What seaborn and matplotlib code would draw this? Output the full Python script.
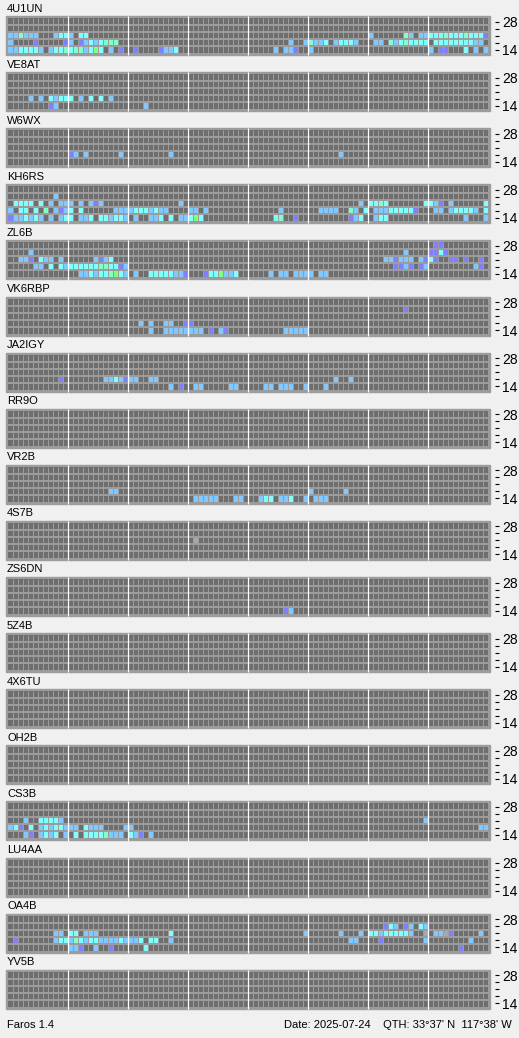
import numpy as np
import pandas as pd
import seaborn as sns
import matplotlib.pyplot as plt
from matplotlib.colors import ListedColormap
from matplotlib.patches import Rectangle

stations = ["4U1UN", "VE8AT", "W6WX", "KH6RS", "ZL6B", "VK6RBP", "JA2IGY", "RR9O", "VR2B",
            "4S7B", "ZS6DN", "5Z4B", "4X6TU", "OH2B", "CS3B", "LU4AA", "OA4B", "YV5B"]
bands = [28, 24, 21, 18, 14]
band_labels = ["28", "", "", "", "14"]
n_slots = 96

# detections per band: "slot:level"  (0 = weak/grey, 1 purple ... 5 green)
S_4U1UN = {
    21: "0:2 1:2 2:4 3:2 4:2 5:2 9:2 10:3 11:3 12:2 14:3 15:3 72:2 79:4 80:2 82:2 83:2 84:3 85:3 86:3 "
        "87:4 88:3 89:3 90:3 91:4 92:3 93:3 94:3 95:1",
    18: "0:2 5:1 11:1 12:2 14:1 15:2 16:3 17:2 18:3 19:4 20:4 21:4 56:2 59:2 60:4 61:2 62:2 63:3 65:2 "
        "66:3 67:3 68:3 69:2 73:2 74:2 76:4 77:2 78:3 79:4 80:3 81:3 82:3 83:3 85:3 86:3 87:3 88:3 "
        "89:3 90:3 91:3 92:3 93:2 94:2",
    14: "0:2 1:2 2:3 3:3 4:3 5:3 6:2 8:2 9:3 10:3 11:4 12:3 13:4 14:4 15:2 16:3 17:5 18:3 20:2 22:1 "
        "25:1 30:1 31:2 32:2 33:3 53:2 55:2 56:2 57:1 60:2 84:2 86:1 87:1 91:3 93:2 95:2",
}
S_VE8AT = {
    18: "4:2 6:2 8:3 9:2 10:3 11:3 12:3 14:2 16:3 18:3 20:2",
    14: "8:1 9:2 27:2",
}
S_W6WX = {18: "12:1 13:2 15:2 22:2 32:2 66:2"}
S_KH6RS = {
    24: "9:2",
    21: "1:3 2:3 3:3 4:3 6:3 8:2 10:2 11:2 12:2 14:2 16:2 17:1 18:2 34:2 70:2 72:3 73:3 74:4 75:3 "
        "83:3 84:3 85:2 86:1 88:2 95:3",
    18: "0:2 2:3 3:3 5:3 7:4 9:2 10:1 11:2 12:3 14:3 21:2 22:2 23:2 24:2 25:3 26:3 27:3 28:2 29:3 "
        "30:2 31:2 36:2 37:2 39:2 54:2 62:2 63:2 64:2 65:2 68:4 69:2 71:3 73:2 74:2 75:2 76:3 77:3 "
        "78:3 79:3 80:3 81:1 85:2 86:2 88:2 89:3 90:3 91:3 92:3 93:2 95:3",
    14: "0:1 1:2 2:2 3:3 4:2 5:3 6:2 8:2 10:2 11:3 12:3 14:2 15:2 16:3 18:3 19:3 20:2 21:3 22:3 "
        "23:2 25:2 28:2 29:2 30:3 32:3 34:2 35:2 36:3 37:5 38:3 53:3 54:4 57:1 68:1 69:2 70:3 73:2 "
        "74:3 75:3 91:2 95:2",
}
S_ZL6B = {
    28: "85:1 86:1",
    24: "4:2 79:2 84:1 85:1 86:3 87:1",
    21: "2:2 3:2 4:1 6:3 7:2 8:2 10:2 17:2 18:1 19:2 20:3 75:2 76:2 77:1 78:2 79:2 80:2 82:2 83:1 "
        "84:3 85:1 88:1 89:1 91:1 94:1",
    18: "5:2 6:2 8:3 10:3 11:2 12:3 13:3 14:3 15:3 16:3 17:3 18:4 19:4 20:3 21:3 22:1 23:2 77:1 "
        "78:1 79:2 80:1 82:1 83:2 93:2 94:1",
    14: "14:2 15:2 16:3 17:2 18:3 19:3 20:4 21:5 22:3 23:2 25:2 28:3 29:3 30:3 31:3 32:3 33:2 34:2 "
        "35:1 39:1 40:3 41:3 42:5 43:2 44:2 45:3 52:2 54:2 55:2 57:2 58:2 59:2 60:2 62:2 63:2",
}
S_VK6RBP = {
    24: "79:1",
    18: "26:2 28:2 31:2 32:2 35:1 36:1",
    14: "28:2 31:2 32:2 33:2 34:2 35:2 36:2 37:2 38:2 40:1 42:2 43:1 55:2 56:2 57:2 58:2 59:2",
}
S_JA2IGY = {
    18: "10:1 19:2 20:2 21:3 22:2 23:1 24:2 25:2 28:2 29:2 65:2 68:2",
    14: "32:2 34:1 37:2 38:2 44:2 45:2 51:2 52:2 54:2 55:2 56:2 59:2 63:2",
}
S_VR2B = {
    18: "20:2 21:2 60:2 67:2",
    14: "37:2 38:2 39:2 40:2 41:2 45:2 46:2 50:2 51:3 52:3 54:2 55:2 56:3 59:2 61:2 62:2 63:2",
}
S_4S7B = {21: "37:0"}
S_ZS6DN = {14: "55:1 56:2"}
S_CS3B = {
    21: "3:2 6:3 7:3 8:3 9:3 10:2 83:2",
    18: "0:2 1:3 2:1 4:3 6:2 7:3 8:2 9:3 10:3 11:2 12:2 13:2 15:3 16:2 17:2 18:2 23:2 24:2 94:2 95:2",
    14: "3:2 4:1 6:2 7:3 8:2 9:3 11:2 13:3 15:3 16:3 17:3 18:3 19:4 20:2 21:2 22:2 24:3 25:2 26:1 28:2",
}
S_OA4B = {
    24: "75:1 76:3 77:2 79:1 80:2 82:3 83:2",
    21: "9:2 10:2 12:3 13:3 15:2 16:2 17:2 32:3 59:2 66:2 70:2 72:3 73:3 74:2 75:3 76:3 77:3 78:3 "
        "79:3 80:2 83:0 85:2 86:2 87:0 88:1 94:2",
    18: "1:1 9:2 10:3 11:3 12:2 13:4 14:3 15:2 16:3 17:3 18:2 19:2 20:2 21:2 22:3 23:2 24:2 25:2 "
        "26:3 28:3 29:3 32:2 68:2 69:2 74:1 83:2 92:2",
    14: "12:2 13:2 14:1 17:2 20:1 27:3 90:1",
}
signals = {"4U1UN": S_4U1UN, "VE8AT": S_VE8AT, "W6WX": S_W6WX, "KH6RS": S_KH6RS, "ZL6B": S_ZL6B,
           "VK6RBP": S_VK6RBP, "JA2IGY": S_JA2IGY, "VR2B": S_VR2B, "4S7B": S_4S7B,
           "ZS6DN": S_ZS6DN, "CS3B": S_CS3B, "OA4B": S_OA4B}

footer_left = "Faros 1.4"
footer_right = "Date: 2025-07-24    QTH: 33°37' N  117°38' W"

# -1 empty, 0 grey, 1..5 signal strength
level_colors = ["#6e6e6e", "#a8a8a8", "#8080ff", "#80c8ff", "#80ffff", "#80ffc8", "#80ff80"]
cmap = ListedColormap(level_colors)
gap = "#9c9c9c"


def station_frame(spec):
    m = np.full((len(bands), n_slots), -1)
    for band, cells in spec.items():
        for item in cells.split():
            c, v = item.split(":")
            m[bands.index(band), int(c)] = int(v)
    return pd.DataFrame(m, index=bands)


plt.rcParams['font.family'] = ['Liberation Sans', 'DejaVu Sans']
W, H = 519, 1038
fig = plt.figure(figsize=(W / 100, H / 100), dpi=100, facecolor="#f0f0f0")

x0, x1 = 8, 488
inner_h = 35
for k, name in enumerate(stations):
    top = 16 + 56.1 * k
    # grey frame behind the grid
    fig.patches.append(Rectangle(((x0 - 2) / W, 1 - (top + inner_h + 4) / H), (x1 - x0 + 4) / W,
                                 (inner_h + 4) / H, transform=fig.transFigure, color=gap, zorder=-1))
    ax = fig.add_axes([x0 / W, 1 - (top + 2 + inner_h) / H, (x1 - x0) / W, inner_h / H])
    sns.heatmap(station_frame(signals.get(name, {})), ax=ax, cmap=cmap, vmin=-1.5, vmax=5.5,
                cbar=False, linewidths=0, xticklabels=False)
    ax.vlines(np.arange(1, n_slots), 0, len(bands), color=gap, lw=0.72)
    ax.hlines(np.arange(1, len(bands)), 0, n_slots, color=gap, lw=1.44)
    ax.vlines(np.arange(12, n_slots, 12), -0.3, len(bands) + 0.3, color="white", lw=0.9,
              clip_on=False, zorder=5)
    ax.set_xlabel("")
    ax.set_ylabel("")
    ax.yaxis.tick_right()
    ax.set_yticks(np.arange(len(bands)) + 0.5)
    ax.set_yticklabels(band_labels, rotation=0, fontsize=8)
    ax.spines['right'].set_position(('outward', 5))
    for s in ax.spines.values():
        s.set_visible(False)
    ax.tick_params(axis='y', length=3, width=0.8, color='black', pad=2, left=False, right=True)
    ax.tick_params(axis='x', length=0)
    fig.text(7 / W, 1 - (top - 7.5) / H, name, fontsize=8, va='center', ha='left')

fig.text(7 / W, 1 - 1025 / H, footer_left, fontsize=8, va='center', ha='left')
fig.text(512 / W, 1 - 1025 / H, footer_right, fontsize=8, va='center', ha='right')

fig.savefig("out.png", dpi=100, facecolor=fig.get_facecolor())
